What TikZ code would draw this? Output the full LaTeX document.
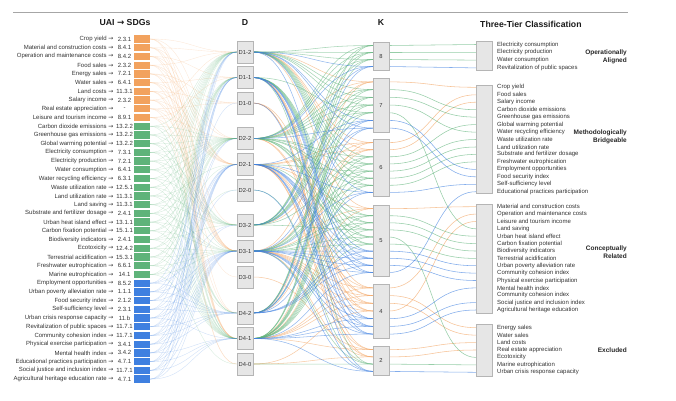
\documentclass[tikz,border=0pt]{standalone}
\usepackage{fontspec}
\setmainfont{Liberation Sans}
\newfontfamily\arrfont{DejaVu Sans}
\definecolor{co}{HTML}{F2A25E}
\definecolor{cg}{HTML}{5FB37A}
\definecolor{cb}{HTML}{3F80E0}
\definecolor{boxfill}{HTML}{E6E6E6}
\definecolor{boxline}{HTML}{B5B5B5}
\definecolor{txt}{HTML}{333333}
\pgfdeclarelayer{bg}
\pgfsetlayers{bg,main}
\begin{document}
\begin{tikzpicture}[x=1pt,y=-1pt,
  gbox/.style={draw=boxline,fill=boxfill,line width=0.5pt,minimum width=16pt,inner sep=0pt,text=txt,font=\fontsize{5.8}{7}\selectfont},
  lab/.style={font=\fontsize{6}{7}\selectfont,inner sep=0pt,text=txt},
  ttl/.style={font=\fontsize{8.7}{10}\selectfont\bfseries,inner sep=0pt,text=black!90},
  tier/.style={font=\fontsize{6.5}{8}\selectfont\bfseries,inner sep=0pt,text=black!85,align=right,anchor=east},
  barbox/.style={minimum width=16pt,minimum height=7.3pt,inner sep=0pt,draw=none},
  llink/.style={line width=0.4pt,opacity=0.24},
  dlink/.style={line width=0.55pt,opacity=0.55},
  tlink/.style={line width=0.55pt,opacity=0.65}]
\useasboundingbox (0,0) rectangle (676,400);
\draw[black!35,line width=0.8pt] (13,12) -- (628,12);
% titles
\node[ttl] (tU) at (125,23) {UAI {\arrfont →} SDGs};
\node[ttl] (tD) at (245,23) {D};
\node[ttl] (tK) at (381,23) {K};
\node[ttl,anchor=west] (tT) at (480,24) {Three-Tier Classification};
% left items
\foreach \n/\g/\c [count=\i] in {Crop yield/2.3.1/co, Material and construction costs/8.4.1/co, Operation and maintenance costs/8.4.2/co, Food sales/2.3.2/co, Energy sales/7.2.1/co, Water sales/6.4.1/co, Land costs/11.3.1/co, Salary income/2.3.2/co, Real estate appreciation/-/co, Leisure and tourism income/8.9.1/co,
 Carbon dioxide emissions/13.2.2/cg, Greenhouse gas emissions/13.2.2/cg, Global warming potential/13.2.2/cg, Electricity consumption/7.3.1/cg, Electricity production/7.2.1/cg, Water consumption/6.4.1/cg, Water recycling efficiency/6.3.1/cg, Waste utilization rate/12.5.1/cg, Land utilization rate/11.3.1/cg, Land saving/11.3.1/cg, Substrate and fertilizer dosage/2.4.1/cg, Urban heat island effect/13.1.1/cg, Carbon fixation potential/15.1.1/cg, Biodiversity indicators/2.4.1/cg, Ecotoxicity/12.4.2/cg, Terrestrial acidification/15.3.1/cg, Freshwater eutrophication/6.6.1/cg, Marine eutrophication/14.1/cg,
 Employment opportunities/8.5.2/cb, Urban poverty alleviation rate/1.1.1/cb, Food security index/2.1.2/cb, Self-sufficiency level/2.3.1/cb, Urban crisis response capacity/11.b/cb, Revitalization of public spaces/11.7.1/cb, Community cohesion index/11.7.1/cb, Physical exercise participation/3.4.1/cb, Mental health index/3.4.2/cb, Educational practices participation/4.7.1/cb, Social justice and inclusion index/11.7.1/cb, Agricultural heritage education rate/4.7.1/cb}{
  \pgfmathsetmacro\yy{39+(\i-1)*8.72}
  \node[barbox,fill=\c] (bar\i) at (142,\yy) {};
  \node[lab,anchor=east] (ln\i) at (113.5,\yy) {\n~{\arrfont →}};
  \node[lab] (lg\i) at (124.5,\yy) {\g};
}
% D boxes
\foreach \nm/\t/\y in {D12/D1-2/52, D11/D1-1/77.5, D10/D1-0/103, D22/D2-2/138.5, D21/D2-1/164.5, D20/D2-0/190, D32/D3-2/225, D31/D3-1/251, D30/D3-0/277, D42/D4-2/313, D41/D4-1/338.5, D40/D4-0/364}{
  \node[gbox,minimum height=22pt] (\nm) at (245,\y) {\t};
}
% K boxes
\foreach \nm/\t/\y/\h in {K8/8/56/28, K7/7/105/54, K6/6/167.5/57, K5/5/240.5/71, K4/4/311/54, K2/2/360.5/29}{
  \node[gbox,minimum height=\h pt] (\nm) at (381,\y) {\t};
}
% tier boxes
\foreach \nm/\y/\h in {T1/55.5/29, T2/139/108, T3/258.5/109, T4/350/52}{
  \node[gbox,minimum height=\h pt] (\nm) at (484,\y) {};
}
% tier texts
\foreach \n [count=\j from 0] in {Electricity consumption, Electricity production, Water consumption, Revitalization of public spaces}{
  \node[lab,anchor=west] at (497,44.5+7.8*\j) {\n};}
\foreach \n [count=\j from 0] in {Crop yield, Food sales, Salary income, Carbon dioxide emissions, Greenhouse gas emissions, Global warming potential, Water recycling efficiency, Waste utilization rate, Land utilization rate, Substrate and fertilizer dosage, Freshwater eutrophication, Employment opportunities, Food security index, Self-sufficiency level, Educational practices participation}{
  \node[lab,anchor=west] at (497,87.3+7.46*\j) {\n};}
\foreach \n [count=\j from 0] in {Material and construction costs, Operation and maintenance costs, Leisure and tourism income, Land saving, Urban heat island effect, Carbon fixation potential, Biodiversity indicators, Terrestrial acidification, Urban poverty alleviation rate, Community cohesion index, Physical exercise participation, Mental health index, Community cohesion index, Social justice and inclusion index, Agricultural heritage education}{
  \node[lab,anchor=west] at (497,206.7+7.38*\j) {\n};}
\foreach \n [count=\j from 0] in {Energy sales, Water sales, Land costs, Real estate appreciation, Ecotoxicity, Marine eutrophication, Urban crisis response capacity}{
  \node[lab,anchor=west] at (497,327.7+7.43*\j) {\n};}
% tier labels
\node[tier] (L1) at (627,56.7) {Operationally\\Aligned};
\node[tier] (L2) at (627,136.7) {Methodologically\\Bridgeable};
\node[tier] (L3) at (627,252) {Conceptually\\Related};
\node[tier] (L4) at (627,350) {Excluded};
% links
\begin{pgfonlayer}{bg}
\foreach \i/\c/\p/\q/\r/\s/\ky/\ty in {
 1/co/2/2/1/2/81.9/87.3, 2/co/2/1/1/1/208.6/206.7, 3/co/1/1/1/1/287.9/214.1, 4/co/2/1/2/1/142.6/94.8, 5/co/0/2/1/1/295.6/327.7,
 6/co/1/1/1/1/303.3/335.1, 7/co/0/1/0/1/349.6/342.6, 8/co/2/1/1/2/149.7/102.2, 9/co/0/1/1/0/356.9/350.0, 10/co/1/2/1/0/311.0/221.5,
 11/cg/2/2/2/1/89.6/109.7, 12/cg/2/2/2/1/97.3/117.1, 13/cg/2/2/1/1/156.8/124.6, 14/cg/2/2/2/2/45.5/44.5, 15/cg/2/2/2/2/52.5/52.3,
 16/cg/2/2/2/2/59.5/60.1, 17/cg/2/2/2/1/105.0/132.1, 18/cg/2/2/1/1/163.9/139.5, 19/cg/2/1/2/1/171.1/147.0, 20/cg/1/2/2/2/112.7/228.8,
 21/cg/2/2/1/1/178.2/154.4, 22/cg/1/2/1/1/215.7/236.2, 23/cg/1/2/1/1/222.8/243.6, 24/cg/1/1/2/1/229.9/251.0, 25/cg/1/2/1/1/237.0/357.4,
 26/cg/1/2/1/1/244.1/258.4, 27/cg/2/2/1/1/185.3/161.9, 28/cg/1/0/1/0/364.1/364.9, 29/cb/2/1/2/2/120.4/169.4, 30/cb/1/1/1/2/251.2/265.7,
 31/cb/2/2/1/2/128.1/176.8, 32/cb/2/1/1/2/192.4/184.3, 33/cb/0/0/1/1/371.4/372.3, 34/cb/2/2/2/2/66.5/67.9, 35/cb/1/1/1/2/258.3/273.1,
 36/cb/1/1/1/2/265.4/280.5, 37/cb/1/1/1/1/318.7/287.9, 38/cb/2/1/1/1/272.5/191.7, 39/cb/1/1/1/1/326.4/302.6, 40/cb/1/1/1/1/334.1/310.0}{
  \coordinate (ksl\i) at (373,\ky);
  \coordinate (ksr\i) at (389,\ky);
  \coordinate (ts\i) at (476,\ty);
  \foreach \dd/\lv in {1/\p,2/\q,3/\r,4/\s}{
    \draw[llink,\c] (bar\i.east) .. controls +(44,0) and +(-44,0) .. (D\dd\lv.west);
    \draw[dlink,\c] (D\dd\lv.east) .. controls +(60,0) and +(-60,0) .. (ksl\i);
  }
  \draw[tlink,\c] (ksr\i) .. controls +(44,0) and +(-44,0) .. (ts\i);
}
\end{pgfonlayer}
\end{tikzpicture}
\end{document}
